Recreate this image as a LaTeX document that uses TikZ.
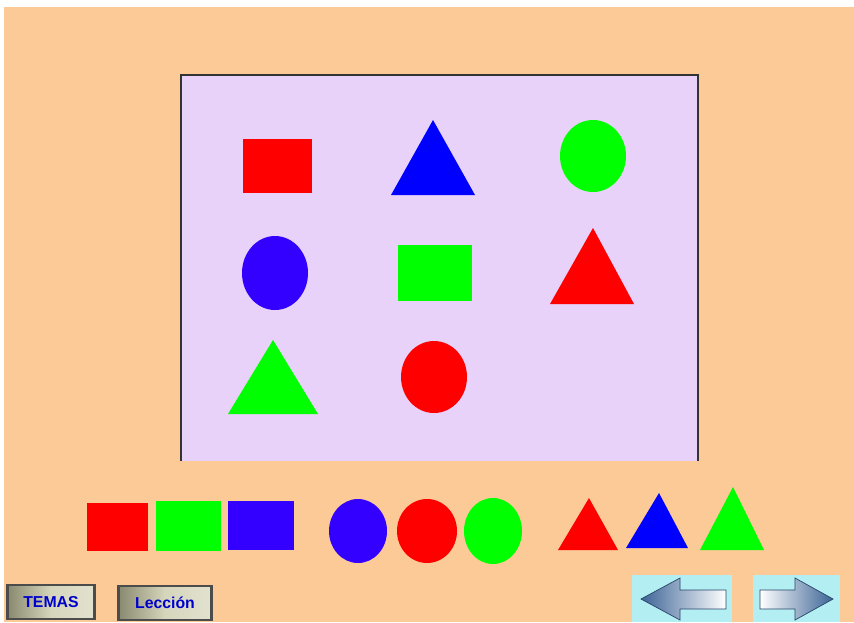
\documentclass[tikz,border=0pt]{standalone}
\usepackage{fontspec}
\setsansfont{Liberation Sans}
\definecolor{peach}{RGB}{252,202,151}
\definecolor{lilac}{RGB}{232,210,250}
\definecolor{violet}{RGB}{51,0,255}
\definecolor{pblue}{RGB}{0,0,255}
\definecolor{pgreen}{RGB}{0,255,0}
\definecolor{pred}{RGB}{255,0,0}
\definecolor{aqua}{RGB}{178,238,242}
\definecolor{steel}{RGB}{60,100,150}
\definecolor{btn}{RGB}{196,196,160}

\begin{document}
\begin{tikzpicture}[x=0.02cm,y=-0.02cm,
  button/.style={draw=black!70,line width=1.5pt,left color=btn!70!black,right color=btn!50!white,
    middle color=btn!70!white,minimum height=0.68cm,font=\sffamily\small\bfseries,text=pblue!80!black,inner sep=0pt},
  arrowbox/.style={fill=aqua,draw=none}]
  \useasboundingbox (0,0) rectangle (854,622);
  \fill[peach] (4,7) rectangle (854,622);
  % the frame with the nine figures
  \fill[lilac] (181,75) rectangle (698,461);
  \draw[line width=1.2pt,black!80] (181,461)--(181,75)--(698,75)--(698,461);
  \fill[pred] (243,139) rectangle (312,193);
  \fill[pblue] (433,120)--(475,195)--(391,195)--cycle;
  \fill[pgreen] (593,156) ellipse (33 and 36);
  \fill[violet] (275,273) ellipse (33 and 37);
  \fill[pgreen] (398,245) rectangle (472,301);
  \fill[pred] (593,228)--(634,304)--(550,304)--cycle;
  \fill[pgreen] (273,340)--(318,414)--(228,414)--cycle;
  \fill[pred] (434,377) ellipse (33 and 36);
  % pieces below the frame
  \fill[pred] (87,503) rectangle (148,551);
  \fill[pgreen] (156,501) rectangle (221,551);
  \fill[violet] (228,501) rectangle (294,550);
  \fill[violet] (358,531) ellipse (29 and 32);
  \fill[pred] (427,531) ellipse (30 and 32);
  \fill[pgreen] (493,531) ellipse (29 and 33);
  \fill[pred] (589,498)--(618,550)--(558,550)--cycle;
  \fill[pblue] (659,493)--(688,548)--(626,548)--cycle;
  \fill[pgreen] (733,487)--(764,550)--(700,550)--cycle;
  % buttons
  \node[button,minimum width=1.74cm] (temas) at (51,602) {TEMAS};
  \node[button,minimum width=1.86cm] (leccion) at (165,603) {Lección};
  \fill[arrowbox] (632,575) rectangle (732,622);
  \fill[arrowbox] (753,575) rectangle (840,622);
  \shade[left color=steel,right color=white,draw=steel!70!black]
    (641,599)--(680,578)--(680,590)--(726,590)--(726,609)--(680,609)--(680,620)--cycle;
  \shade[left color=white,right color=steel,draw=steel!70!black]
    (833,599)--(795,578)--(795,590)--(760,590)--(760,609)--(795,609)--(795,620)--cycle;
\end{tikzpicture}
\end{document}
